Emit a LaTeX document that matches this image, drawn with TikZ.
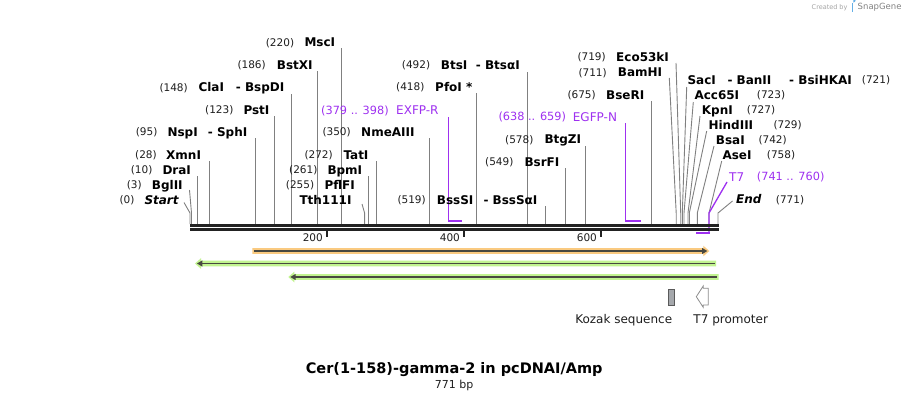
\documentclass[tikz,border=0pt]{standalone}
\usepackage{fontspec}
\setmainfont{DejaVu Sans}
\definecolor{numc}{RGB}{30,30,30}
\definecolor{primc}{RGB}{158,48,240}
\definecolor{linec}{RGB}{128,128,128}
\definecolor{bbc}{RGB}{34,34,34}
\definecolor{orf}{RGB}{250,202,128}
\definecolor{grf}{RGB}{194,244,144}
\definecolor{arc}{RGB}{72,72,64}
\definecolor{kozf}{RGB}{165,168,172}
\definecolor{logoc}{RGB}{100,175,230}
\tikzset{
  num/.style={anchor=base west, inner sep=0, font=\fontsize{10.5}{12}\selectfont, text=numc, yshift=-3.8pt},
  enz/.style={anchor=base west, inner sep=0, font=\bfseries\fontsize{12}{14}\selectfont, text=black, yshift=-4.4pt},
  prim/.style={anchor=base west, inner sep=0, font=\fontsize{12}{14}\selectfont, text=primc, yshift=-4.4pt},
  primnum/.style={anchor=base west, inner sep=0, font=\fontsize{11.3}{13}\selectfont, text=primc, yshift=-4.2pt},
  featlbl/.style={anchor=base, inner sep=0, font=\fontsize{12}{14}\selectfont, text=numc, yshift=-4.4pt},
  siteline/.style={draw=linec, line width=0.9pt},
  primv/.style={draw=primc, line width=1.3pt},
  primh/.style={draw=primc, line width=2.2pt},
  bbline/.style={draw=bbc, line width=2.7pt},
  tickmark/.style={draw=bbc, line width=2pt},
}
\newcommand\mysitev[3]{%
  \coordinate (#1t) at (#2,#3);
  \coordinate (#1b) at (#2,224);
  \draw[siteline] (#1t) -- (#1b);}
\newcommand\mysites[4]{%
  \coordinate (#1t) at (#2,#3);
  \coordinate (#1k) at (#4,213);
  \coordinate (#1b) at (#4,224);
  \draw[siteline] (#1t) -- (#1k) -- (#1b);}
\begin{document}
\begin{tikzpicture}[x=1pt,y=-1pt]
\useasboundingbox (0,0) rectangle (909,400);
\fill[white] (0,0) rectangle (909,400);

% ---------- Created by SnapGene ----------
\node[anchor=base west, inner sep=0, font=\fontsize{6.5}{8}\selectfont, text={rgb,255:red,165;green,165;blue,165}, yshift=-2.4pt] (cby) at (811.5,6.7) {Created by};
\fill[logoc] (851.5,2.5) rectangle (853.3,11.5);
\fill[logoc] (853.3,2.5) arc[start angle=90, end angle=-90, radius=2.3] -- cycle;
\node[anchor=base west, inner sep=0, font=\fontsize{8.5}{10}\selectfont, text={rgb,255:red,130;green,130;blue,130}, yshift=-3.1pt] (sgn) at (857.5,6.7) {SnapGene};

% ---------- site lines ----------
\mysitev{s220}{341}{48}
\mysitev{s186}{317.5}{71}
\mysitev{s148}{291.5}{94}
\mysitev{s123}{274.3}{116}
\mysitev{s95}{255.5}{138}
\mysitev{s28}{209.3}{161}
\mysitev{s10}{197.3}{176}
\mysites{s3}{189.5}{190}{191.5}
\mysites{s0}{184}{202.5}{190}
\mysitev{s272}{376.7}{161}
\mysitev{s261}{368.5}{176}
\mysites{s255}{362}{204}{364.6}
\mysitev{s350}{429.5}{138}
\mysitev{s418}{476.3}{93}
\mysitev{s492}{527}{72}
\mysitev{s519}{545.7}{206}
\mysitev{s549}{565.7}{168}
\mysitev{s578}{585.7}{146}
\mysitev{s675}{651.7}{101}
\mysites{s719}{676}{63}{680.7}
\mysites{s711}{669.3}{78}{676.2}
\mysites{s721}{686.7}{87}{682.3}
\mysites{s723}{693.3}{102}{684}
\mysites{s727}{700}{116}{688}
\mysites{s729}{706.7}{131}{689.3}
\mysites{s742}{714}{146}{697.3}
\mysites{s758}{721.7}{161}{709}
\mysites{s771}{732.5}{201}{718}

% ---------- primers / T7 ----------
\coordinate (pxt) at (448.8,117);
\coordinate (pxk) at (448.8,221);
\coordinate (pxe) at (462.2,221);
\draw[primv] (pxt) -- (pxk);
\draw[primh] ([xshift=-0.65pt]pxk) -- (pxe);
\coordinate (pgt) at (625.7,123);
\coordinate (pgk) at (625.7,221);
\coordinate (pge) at (640.6,221);
\draw[primv] (pgt) -- (pgk);
\draw[primh] ([xshift=-0.65pt]pgk) -- (pge);
\coordinate (ptt) at (727,182);
\coordinate (ptk) at (709,213);
\coordinate (ptb) at (709,233);
\coordinate (pte) at (696,233);
\draw[primv] (ptt) -- (ptk) -- (ptb);
\draw[primh] ([xshift=0.65pt]ptb) -- (pte);

% ---------- backbone ----------
\coordinate (bbL1) at (190,225.35);
\coordinate (bbR1) at (718.5,225.35);
\coordinate (bbL2) at (190,229.35);
\coordinate (bbR2) at (718.5,229.35);
\draw[bbline] (bbL1) -- (bbR1);
\draw[bbline] (bbL2) -- (bbR2);

% ---------- ruler ----------
\coordinate (t200a) at (327,230.7); \coordinate (t200b) at (327,237.3);
\coordinate (t400a) at (464.1,230.7); \coordinate (t400b) at (464.1,237.3);
\coordinate (t600a) at (601.1,230.7); \coordinate (t600b) at (601.1,237.3);
\draw[tickmark] (t200a) -- (t200b);
\draw[tickmark] (t400a) -- (t400b);
\draw[tickmark] (t600a) -- (t600b);
\node[num, anchor=base east] (r200) at (323,238) {200};
\node[num, anchor=base east] (r400) at (460.1,238) {400};
\node[num, anchor=base east] (r600) at (597.1,238) {600};

% ---------- left labels ----------
\node[num] (n220) at (265.7,42.3) {(220)};
\node[enz] (e220) at (304.3,42.3) {MscI};
\node[num] (n186) at (237.3,65) {(186)};
\node[enz] (e186) at (276.7,65) {BstXI};
\node[num] (n148) at (159.3,87.3) {(148)};
\node[enz] (e148) at (198.3,87.3) {ClaI};
\node[enz] (f148) at (235.7,87.3) {- BspDI};
\node[num] (n123) at (205,110) {(123)};
\node[enz] (e123) at (243.3,110) {PstI};
\node[num] (n95) at (135.7,131.7) {(95)};
\node[enz] (e95) at (167.3,131.7) {NspI};
\node[enz] (f95) at (207.7,131.7) {- SphI};
\node[num] (n28) at (135,155) {(28)};
\node[enz] (e28) at (166,155) {XmnI};
\node[num] (n10) at (130.7,170) {(10)};
\node[enz] (e10) at (162.3,170) {DraI};
\node[num] (n3) at (126.7,185) {(3)};
\node[enz] (e3) at (151.7,185) {BglII};
\node[num] (n0) at (119.3,200) {(0)};
\node[enz] (e0) at (144.3,200) {\itshape Start};
\node[num] (n272) at (304.3,155) {(272)};
\node[enz] (e272) at (343.3,155) {TatI};
\node[num] (n261) at (289,170) {(261)};
\node[enz] (e261) at (327.3,170) {BpmI};
\node[num] (n255) at (285.7,185) {(255)};
\node[enz] (e255) at (324.3,185) {PflFI};
\node[enz] (f255) at (299.3,200) {Tth111I};
\node[num] (n350) at (322.3,131.7) {(350)};
\node[enz] (e350) at (361,131.7) {NmeAIII};
\node[primnum] (n379) at (321,110) {(379 .. 398)};
\node[prim] (e379) at (396,110) {EXFP-R};
\node[num] (n418) at (396,86.7) {(418)};
\node[enz] (e418) at (435,86.7) {PfoI *};
\node[num] (n492) at (401.7,65) {(492)};
\node[enz] (e492) at (440.7,65) {BtsI};
\node[enz] (f492) at (475.7,65) {- BtsαI};
\node[num] (n519) at (397.3,200) {(519)};
\node[enz] (e519) at (436.7,200) {BssSI};
\node[enz] (f519) at (483.3,200) {- BssSαI};
\node[num] (n549) at (485,161.7) {(549)};
\node[enz] (e549) at (524.3,161.7) {BsrFI};
\node[num] (n578) at (505,139.3) {(578)};
\node[enz] (e578) at (544.3,139.3) {BtgZI};
\node[primnum] (n638) at (498.3,116.7) {(638 .. 659)};
\node[prim] (e638) at (572.7,116.7) {EGFP-N};
\node[num] (n675) at (567.3,95) {(675)};
\node[enz] (e675) at (606,95) {BseRI};
\node[num] (n719) at (577.3,56.7) {(719)};
\node[enz] (e719) at (616,56.7) {Eco53kI};
\node[num] (n711) at (578.3,72.3) {(711)};
\node[enz] (e711) at (617.7,72.3) {BamHI};

% ---------- right labels ----------
\node[enz] (e721) at (687.3,80) {SacI};
\node[enz] (f721) at (727.3,80) {- BanII};
\node[enz] (g721) at (789,80) {- BsiHKAI};
\node[num] (n721) at (861.7,80) {(721)};
\node[enz] (e723) at (694.3,95) {Acc65I};
\node[num] (n723) at (756.7,95) {(723)};
\node[enz] (e727) at (701.7,110) {KpnI};
\node[num] (n727) at (746.7,110) {(727)};
\node[enz] (e729) at (708.3,125) {HindIII};
\node[num] (n729) at (773.3,125) {(729)};
\node[enz] (e742) at (715.7,140) {BsaI};
\node[num] (n742) at (758.3,140) {(742)};
\node[enz] (e758) at (722.3,155) {AseI};
\node[num] (n758) at (766.7,155) {(758)};
\node[prim] (e741) at (729,176.7) {T7};
\node[primnum] (n741) at (756.7,176.7) {(741 .. 760)};
\node[enz] (e771) at (736,199.3) {\itshape End};
\node[num] (n771) at (775.7,199.3) {(771)};

% ---------- features ----------
% orange (forward)
\fill[orf] (252.3,248.15) -- (703.3,248.15) -- (703.3,245.7) -- (709.3,251) -- (703.3,256.3) -- (703.3,253.85) -- (252.3,253.85) -- cycle;
\coordinate (oa) at (254,251);
\coordinate (ob) at (703,251);
\draw[arc, line width=1.8pt] (oa) -- (ob);
\fill[arc] (702,247.9) -- (707.3,251) -- (702,254.1) -- cycle;
% green 1 (reverse)
\fill[grf] (716,260.65) -- (201,260.65) -- (201,258.2) -- (195,263.5) -- (201,268.8) -- (201,266.35) -- (716,266.35) -- cycle;
\coordinate (g1a) at (714.5,263.5);
\coordinate (g1b) at (201,263.5);
\draw[arc, line width=1.8pt] (g1a) -- (g1b);
\fill[arc] (202.3,260.4) -- (197,263.5) -- (202.3,266.6) -- cycle;
% green 2 (reverse)
\fill[grf] (718.6,274.15) -- (294.3,274.15) -- (294.3,271.7) -- (288.3,277) -- (294.3,282.3) -- (294.3,279.85) -- (718.6,279.85) -- cycle;
\coordinate (g2a) at (717.1,277);
\coordinate (g2b) at (294.3,277);
\draw[arc, line width=1.8pt] (g2a) -- (g2b);
\fill[arc] (295.6,273.9) -- (290.3,277) -- (295.6,280.1) -- cycle;

% Kozak sequence
\node[draw={rgb,255:red,90;green,90;blue,90}, fill=kozf, line width=0.8pt, minimum width=5.7pt, minimum height=16pt, inner sep=0, anchor=center] (koz) at (671.15,297) {};
\node[featlbl] (kozl) at (623.7,319.3) {Kozak sequence};
% T7 promoter
\draw[draw={rgb,255:red,140;green,140;blue,140}, fill=white, line width=0.8pt, line join=miter]
  (708.3,288.3) -- (703.2,288.3) -- (703.2,286) -- (696.3,296.7) -- (703.2,307.3) -- (703.2,305) -- (708.3,305) -- cycle;
\node[featlbl] (t7l) at (730.7,319.3) {T7 promoter};

% ---------- title ----------
\node[anchor=base, inner sep=0, font=\bfseries\fontsize{14.5}{17}\selectfont, text=black, yshift=-5.3pt] (title) at (454.2,368.3) {Cer(1-158)-gamma-2 in pcDNAI/Amp};
\node[anchor=base, inner sep=0, font=\fontsize{11}{13}\selectfont, text=numc, yshift=-4pt] (bp) at (454.2,384) {771 bp};
\end{tikzpicture}
\end{document}
